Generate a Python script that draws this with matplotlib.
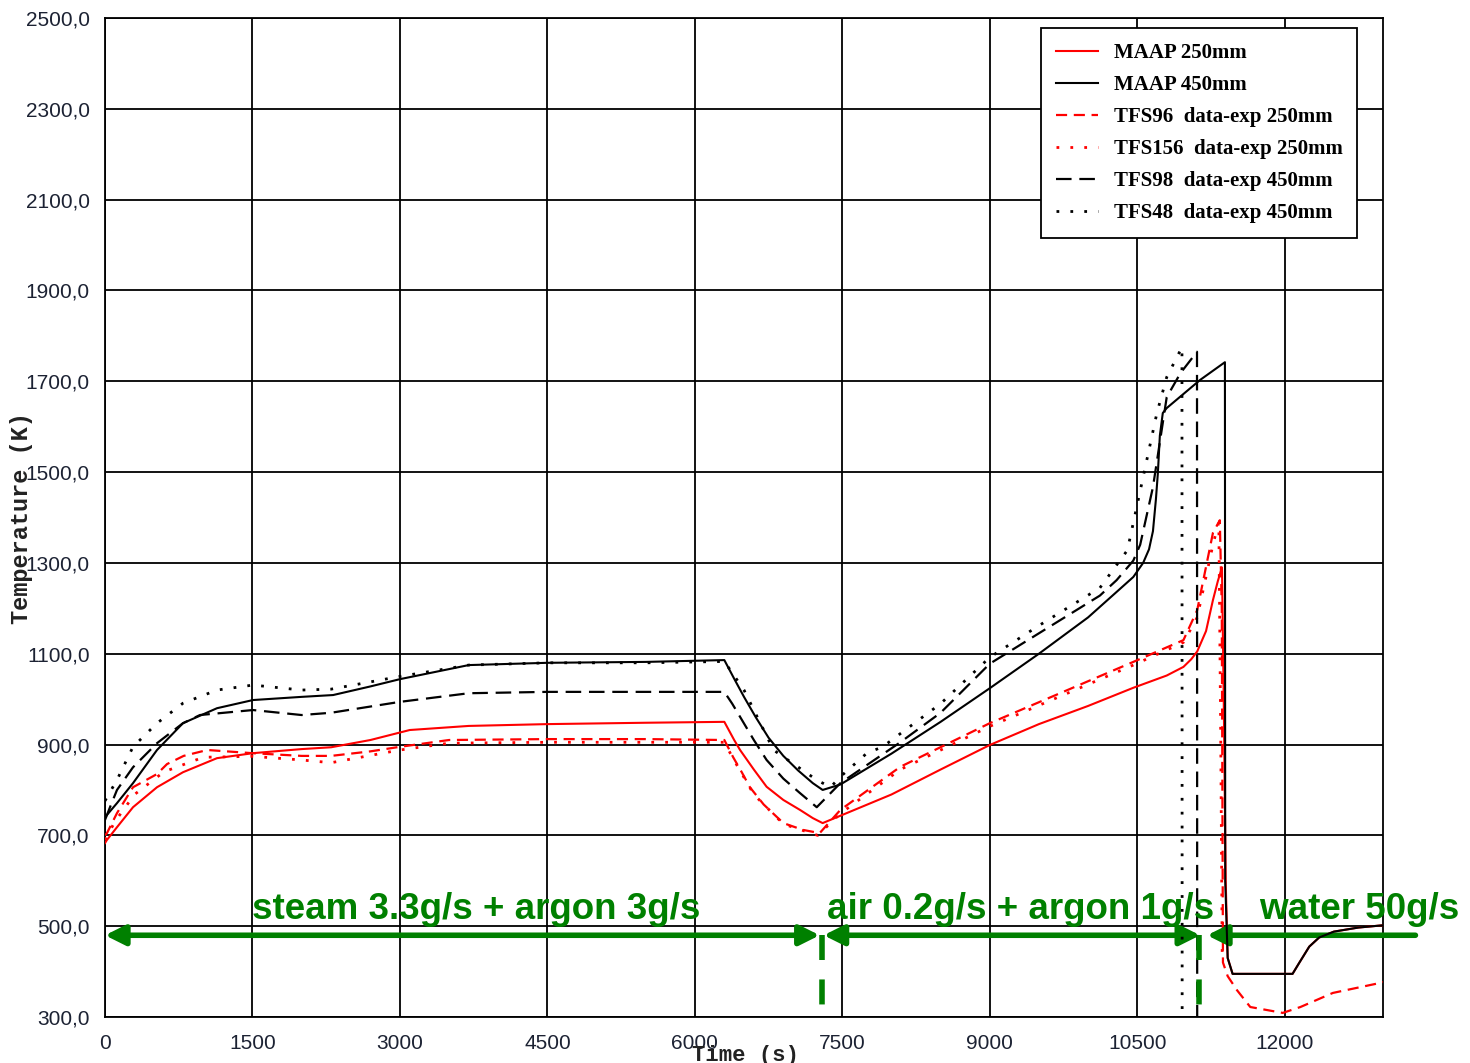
import numpy as np
import matplotlib.pyplot as plt

# time (s) and temperature (K)
maap250_t = [0, 20, 122, 285, 529, 793, 1139, 1505, 2000, 2300, 2700, 3100, 3700, 4500,
             5500, 6300, 6400, 6460, 6600, 6730, 6900, 7070, 7200, 7300, 8000, 8500, 9000,
             9500, 10000, 10460, 10800, 10970, 11050, 11110, 11200, 11270, 11320, 11362,
             11380, 11400, 11420, 11470, 12080, 12150, 12250, 12350, 12500, 12750, 13000]
maap250_T = [683, 690, 718, 762, 806, 839, 870, 881, 890, 894, 910, 932, 941, 945,
             948, 950, 910, 888, 845, 807, 778, 756, 738, 727, 790, 845, 899,
             945, 985, 1025, 1052, 1071, 1088, 1105, 1150, 1218, 1260, 1290,
             1000, 600, 430, 395, 395, 420, 455, 475, 488, 497, 502]

maap450_t = [0, 20, 122, 285, 529, 793, 1139, 1505, 2000, 2320, 2700, 3000, 3700, 4500,
             5500, 6300, 6400, 6500, 6620, 6750, 6900, 7050, 7200, 7300, 7480, 8000, 8500,
             9000, 9500, 10000, 10300, 10460, 10560, 10620, 10660, 10690, 10710, 10730,
             10760, 10800, 11140, 11392, 11395, 11420, 11470, 12080, 12150, 12250, 12350,
             12500, 12750, 13000]
maap450_T = [740, 745, 771, 815, 888, 947, 980, 998, 1005, 1009, 1028, 1044, 1075, 1080,
             1082, 1086, 1045, 1005, 960, 915, 875, 843, 815, 800, 812, 880, 950,
             1024, 1100, 1180, 1238, 1269, 1300, 1330, 1370, 1440, 1498, 1580,
             1630, 1641, 1703, 1742, 600, 430, 395, 395, 420, 455, 475,
             488, 497, 502]

tfs96_t = [0, 20, 122, 285, 529, 631, 800, 1040, 1500, 2000, 2300, 2700, 3000, 3500,
           4500, 5500, 6300, 6390, 6480, 6560, 6700, 6900, 7100, 7270, 7480, 8090, 9000,
           9790, 10460, 10970, 11110, 11270, 11340, 11360, 11372, 11420, 11515, 11650,
           11980, 12160, 12490, 12970, 13000]
tfs96_T = [700, 705, 749, 806, 835, 857, 875, 888, 881, 875, 875, 885, 895, 910,
           912, 912, 910, 872, 838, 806, 768, 727, 712, 705, 756, 851, 947,
           1020, 1082, 1130, 1196, 1366, 1394, 1200, 420, 390, 359, 322,
           309, 322, 353, 375, 377]

tfs156_t = [0, 100, 300, 600, 1000, 1500, 2000, 2300, 2700, 3000, 3500, 4500, 5500, 6300,
            6400, 6600, 6900, 7250, 7480, 8090, 9000, 9790, 10460, 10970, 11110, 11270,
            11330, 11350, 11365]
tfs156_T = [690, 730, 790, 840, 872, 874, 866, 860, 876, 888, 903, 905, 905, 905,
            865, 790, 725, 700, 748, 845, 940, 1013, 1075, 1125, 1180, 1340,
            1390, 900, 420]

tfs98_t = [0, 51, 122, 285, 529, 793, 966, 1505, 2000, 2300, 3000, 3700, 4500, 5500, 6300,
           6380, 6460, 6600, 6730, 6900, 7070, 7240, 7480, 8090, 8500, 9000, 9500, 10120,
           10290, 10460, 10530, 10660, 10800, 10940, 11108, 11110]
tfs98_T = [734, 762, 800, 850, 903, 947, 965, 976, 965, 970, 994, 1013, 1016, 1016, 1016,
           990, 961, 910, 866, 825, 793, 762, 815, 905, 970, 1078, 1145, 1228,
           1262, 1305, 1340, 1467, 1665, 1718, 1765, 300]

tfs48_t = [0, 20, 122, 285, 529, 793, 1139, 1505, 2000, 2300, 3000, 3700, 4500, 5500, 6300,
           6500, 6800, 7240, 7380, 7480, 7750, 7910, 8500, 9000, 9500, 10120, 10400,
           10560, 10700, 10800, 10955, 10957]
tfs48_T = [776, 784, 822, 895, 947, 991, 1020, 1031, 1020, 1022, 1050, 1075, 1080, 1080, 1083,
           1020, 888, 822, 806, 829, 881, 895, 990, 1092, 1162, 1245, 1328,
           1489, 1630, 1709, 1775, 300]

x_ticks = [0, 1500, 3000, 4500, 6000, 7500, 9000, 10500, 12000]
y_ticks = [300, 500, 700, 900, 1100, 1300, 1500, 1700, 1900, 2100, 2300, 2500]
y_labels = ['300,0', '500,0', '700,0', '900,0', '1100,0', '1300,0', '1500,0',
            '1700,0', '1900,0', '2100,0', '2300,0', '2500,0']

# injection phases (s)
phase_edges = [0, 7290, 11130, 11210, 13330]
phase_names = ['steam 3.3g/s + argon 3g/s', 'air 0.2g/s + argon 1g/s', 'water 50g/s']
phase_text_x = [3774, 9318, 12756]

GREEN = '#008000'

fig = plt.figure(figsize=(14.7, 10.63), dpi=100)
ax = fig.add_axes([105/1470, 1 - 1017/1063, 1278/1470, 999/1063])

ax.plot(maap250_t, maap250_T, color='red', lw=1.5, label='MAAP 250mm', zorder=3)
ax.plot(maap450_t, maap450_T, color='black', lw=1.5, label='MAAP 450mm', zorder=5)
ax.plot(tfs96_t, tfs96_T, color='red', lw=1.6, ls=(0, (5, 3)),
        label='TFS96  data-exp 250mm', zorder=3)
ax.plot(tfs156_t, tfs156_T, color='red', lw=2, ls=(0, (1, 4)),
        label='TFS156  data-exp 250mm', zorder=3)
ax.plot(tfs98_t, tfs98_T, color='black', lw=1.6, ls=(0, (7, 3.5)),
        label='TFS98  data-exp 450mm', zorder=4)
ax.plot(tfs48_t, tfs48_T, color='black', lw=2, ls=(0, (1, 4)),
        label='TFS48  data-exp 450mm', zorder=4)

ax.set_xlim(0, 13000)
ax.set_ylim(300, 2500)
ax.set_xticks(x_ticks)
ax.set_yticks(y_ticks)
ax.set_yticklabels(y_labels)
ax.grid(True, color='black', lw=1.3, zorder=1)
ax.set_axisbelow(True)
for s in ax.spines.values():
    s.set_linewidth(1.3)
ax.tick_params(axis='both', length=0, labelsize=15, colors='#1c2233')
ax.tick_params(axis='x', pad=12)
ax.tick_params(axis='y', pad=11)
for lab in ax.get_xticklabels() + ax.get_yticklabels():
    lab.set_family('Liberation Sans')

leg = ax.legend(loc='upper right', bbox_to_anchor=(0.980, 0.990), borderaxespad=0,
                prop={'family': 'Liberation Serif', 'weight': 'bold', 'size': 15},
                fancybox=False, edgecolor='black', framealpha=1,
                handlelength=2.0, handletextpad=0.75, labelspacing=0.58,
                borderpad=0.72)
leg.get_frame().set_linewidth(1.3)

fig.text(745/1470, 1 - 1055/1063, 'Time (s)', ha='center', va='center',
         family='Liberation Mono', weight='bold', fontsize=16, color='#222')
fig.text(22/1470, 1 - 518/1063, 'Temperature (K)', ha='center', va='center',
         rotation=90, family='Liberation Mono', weight='bold', fontsize=17, color='#222')

# phase arrows and labels
y_arr = 480
arw = dict(arrowstyle='<|-|>', color=GREEN, lw=4, mutation_scale=30, shrinkA=0, shrinkB=0)
ax.annotate('', xy=(phase_edges[0], y_arr), xytext=(phase_edges[1] - 20, y_arr),
            arrowprops=arw, annotation_clip=False)
ax.annotate('', xy=(phase_edges[1] + 20, y_arr), xytext=(phase_edges[2] + 10, y_arr),
            arrowprops=arw, annotation_clip=False)
ax.annotate('', xy=(phase_edges[3], y_arr), xytext=(phase_edges[4], y_arr),
            arrowprops=dict(arrowstyle='-|>', color=GREEN, lw=4, mutation_scale=30,
                            shrinkA=0, shrinkB=0),
            annotation_clip=False)
for xe in phase_edges[1:3]:
    ax.plot([xe, xe], [y_arr, 322], color=GREEN, lw=4, ls=(0, (4.5, 3.5)), zorder=6)

for tx, name in zip(phase_text_x, phase_names):
    ax.text(tx, 537, name, ha='center', va='center', color=GREEN, fontsize=26.5,
            weight='bold', family='Liberation Sans', zorder=7, clip_on=False)

fig.savefig('out.png', dpi=100)
